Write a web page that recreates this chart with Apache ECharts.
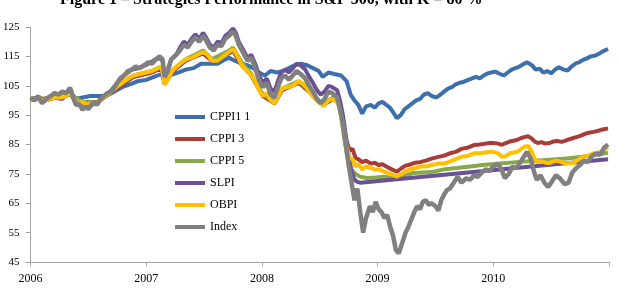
<!DOCTYPE html>
<html>
<head>
<meta charset="utf-8">
<script src="https://cdn.jsdelivr.net/npm/echarts@6/dist/echarts.min.js"></script>
<style>
  html, body { margin: 0; padding: 0; background: #fff; }
</style>
</head>
<body>
<div id="myChart" style="width: 618px; height: 294px"></div>
<script>
// x = months since Jan 2006, y = portfolio value
var legendNames = ["CPPI1 1", "CPPI 3", "CPPI 5", "SLPI", "OBPI", "Index"];
var yearLabels = ["2006", "2007", "2008", "2009", "2010"];

var cppi1 = [[0,100.5],[0.8,100.5],[1.6,100],[2.5,101],[3.3,101],[4.1,102.5],[4.7,100.5],[5.4,101],[6.2,101.5],[7.0,101.5],[7.8,101.5],[8.7,103],[9.5,104.5],[10.3,105.5],[11.1,106.5],[12.0,107],[12.8,108],[13.6,109],[13.9,106.5],[14.4,108.5],[15.3,109.5],[16.1,110.5],[16.9,111],[17.7,112.5],[18.6,112.5],[19.4,112.5],[20.2,114],[20.6,114.5],[21.2,113.5],[21.9,112.5],[22.5,112],[23.1,111],[23.7,109.5],[24.3,108.5],[24.9,110],[25.6,109.5],[26.2,110],[26.8,111],[27.4,112],[28.0,112.5],[28.7,112],[29.3,111],[29.9,110],[30.3,108],[30.9,109.5],[31.5,109],[32.2,108.5],[32.8,106.5],[33.2,102],[33.6,100],[34.0,98.5],[34.4,95.5],[34.8,98],[35.3,98.5],[35.7,97.5],[36.1,99],[36.5,99.5],[36.9,98.5],[37.3,97.5],[37.7,95.5],[38.0,94],[38.4,95],[38.8,97],[39.2,98],[39.6,99],[40.0,100],[40.4,100.5],[40.8,102],[41.2,102.5],[41.6,101.5],[42.1,101],[42.5,102],[42.9,103],[43.3,104],[43.7,104.5],[44.1,105.5],[44.5,106],[44.9,106.3],[45.4,107],[45.8,107.5],[46.2,108],[46.6,107.5],[47.0,108.5],[47.4,109.2],[47.8,109.5],[48.2,109.8],[48.7,109],[49.1,108.5],[49.5,109.5],[49.9,110.5],[50.3,111],[50.7,111.5],[51.1,112.3],[51.5,113],[52.0,112],[52.4,110.5],[52.8,110.8],[53.2,109.5],[53.6,110],[54.0,109.2],[54.4,110.5],[54.8,111.3],[55.3,110.5],[55.7,110.2],[56.1,111.5],[56.5,112.5],[56.9,113],[57.3,113.8],[57.7,114.3],[58.1,115],[58.6,115.3],[59.0,116],[59.4,116.8],[59.9,117.5]];

var cppi3 = [[0,100.3],[2.5,100.8],[4.1,102],[5.4,99.5],[7.0,99.5],[8.9,104],[10.7,108],[12.6,109.5],[13.6,111],[13.9,105.5],[14.8,110],[16.1,113.5],[17.9,116],[18.8,113.5],[20.6,116],[21.0,117],[21.9,112],[22.9,108.5],[24.1,101.5],[25.3,99],[26.1,103.5],[27.8,106],[28.9,103],[29.9,99.5],[30.4,98.5],[31.4,100.5],[31.9,99.5],[32.2,96],[32.5,91],[32.8,86],[33.1,83],[33.4,83.5],[33.7,80.5],[34.0,80],[34.4,79],[34.8,79.5],[35.3,78.5],[35.7,78.8],[36.1,78],[36.5,78.3],[36.9,77.5],[37.3,76.8],[37.7,76.2],[38.0,75.8],[38.5,77],[38.9,77.8],[39.4,78.2],[39.9,78.8],[40.4,79],[41.0,79.5],[41.6,80.2],[42.3,80.8],[42.9,81.2],[43.5,82],[44.1,82.5],[44.7,83.5],[45.4,84],[46.0,84.8],[46.6,85],[47.2,85.3],[47.6,85.5],[48.0,85.5],[48.5,85.3],[48.9,84.9],[49.3,85.5],[49.7,86],[50.1,86.3],[50.5,86.6],[50.9,87.2],[51.3,87.6],[51.6,87.8],[52.0,87],[52.3,86],[52.6,85.5],[53.0,85.8],[53.4,85.3],[53.8,85.5],[54.2,86],[54.6,86.2],[55.1,85.9],[55.5,86.3],[55.9,86.8],[56.3,87.2],[56.7,87.6],[57.1,88],[57.5,88.6],[57.9,89],[58.4,89.3],[58.8,89.6],[59.2,90],[59.6,90.3],[59.9,90.5]];

var cppi5 = [[0,100.3],[2.5,100.8],[4.1,102],[5.4,99.5],[7.0,99.5],[8.9,104.5],[10.7,108.5],[12.6,110],[13.6,111.5],[13.9,106],[14.8,110.5],[16.1,114],[17.9,117],[18.8,114],[20.6,117],[21.0,118],[21.9,113],[22.9,109],[24.1,102],[25.3,99.5],[26.1,104],[27.8,106.5],[28.9,103.5],[29.9,100],[30.4,99],[31.4,101],[31.9,99.5],[32.2,95],[32.5,88],[32.8,82],[33.1,77],[33.4,76],[33.7,75],[34.2,74],[34.9,73.6],[35.8,73.8],[36.6,74],[37.3,73.8],[38.0,73.6],[38.9,74.5],[39.7,75.3],[40.7,75.5],[41.8,75.7],[43.0,76.6],[44.2,77],[45.6,77.5],[46.9,78],[48.7,78.5],[50.4,79],[52.1,79.4],[53.8,79.8],[55.6,80.2],[57.2,80.8],[58.5,81.4],[59.9,82.2]];

var slpi = [[0,100.5],[0.8,101],[1.6,100],[2.5,101],[3.3,100.5],[4.1,103.5],[4.7,98.5],[5.4,98.5],[6.0,97.5],[6.6,99],[7.2,100],[8.0,102],[8.9,105.5],[9.7,108.5],[10.5,110.5],[11.3,111],[12.2,112.5],[13.0,114],[13.4,114.5],[13.7,113.5],[13.9,107.5],[14.2,109.5],[14.6,114],[15.1,115.5],[15.5,118],[15.9,120],[16.3,119],[16.7,121],[17.1,122.5],[17.5,121],[17.9,123],[18.2,121.5],[18.6,119],[19.0,118],[19.4,120],[19.8,119.5],[20.2,122],[20.6,123],[21.0,124.5],[21.3,123],[21.6,120],[22.1,117],[22.5,114.5],[22.9,115.5],[23.3,112.5],[23.7,108.5],[24.1,106],[24.5,107.5],[24.9,104],[25.3,103],[25.6,106],[26.0,109.5],[26.4,110.5],[26.8,109.5],[27.2,111],[27.6,112.5],[28.0,112],[28.5,110.5],[28.9,108],[29.3,106],[29.7,103.5],[30.1,102],[30.5,103],[30.9,105],[31.3,104.5],[31.8,103.5],[32.1,100],[32.4,95],[32.7,88],[33.0,81],[33.3,76],[33.6,73],[33.9,72.3],[34.2,72],[47.0,76],[59.9,80]];

var obpi = [[0,100.5],[0.8,100.5],[1.6,100],[2.5,101],[3.3,101],[4.1,102.5],[4.5,101],[4.9,99],[5.4,99.5],[5.8,98.5],[6.4,99],[7.0,99.5],[7.6,101],[8.2,102.5],[8.9,104.5],[9.5,106],[10.1,107.5],[10.7,108.5],[11.3,109],[12.0,109.5],[12.6,110],[13.2,111],[13.6,111.5],[13.9,105.5],[14.3,107.5],[14.8,110.5],[15.5,112.5],[16.1,114],[16.7,114.5],[17.3,115.5],[17.9,116.5],[18.4,115.5],[18.8,113.5],[19.4,113.5],[20.0,115],[20.6,116.5],[21.0,117.5],[21.4,115.5],[21.9,112],[22.5,110],[22.9,108.5],[23.3,106.5],[23.7,103.5],[24.1,101.5],[24.5,102.5],[24.9,100],[25.3,99],[25.7,101.5],[26.1,104],[26.6,104.5],[27.2,105],[27.8,106.5],[28.4,105.5],[28.9,103],[29.4,101],[29.9,99.5],[30.4,98],[30.9,100],[31.4,100.5],[31.9,99],[32.2,95],[32.5,90],[32.8,84],[33.1,80.5],[33.4,80],[33.7,77.5],[34.0,78.5],[34.4,76.5],[34.8,77.5],[35.3,77],[35.7,76.5],[36.1,76.5],[36.5,76],[36.9,75.5],[37.3,75],[37.7,74.5],[38.0,74],[38.5,75],[38.9,76],[39.4,76.5],[39.9,77],[40.4,77.5],[41.0,77.5],[41.6,78],[42.3,78.5],[42.9,78.5],[43.5,79.2],[44.1,80],[44.7,80.8],[45.4,81.2],[46.0,82],[46.6,82],[47.2,82.3],[47.6,82.5],[48.0,82.5],[48.5,82],[48.9,80.8],[49.3,81],[49.7,82],[50.1,82.3],[50.5,82.5],[50.9,83.5],[51.3,84.3],[51.6,84.5],[52.0,82.5],[52.3,80],[52.6,79],[53.0,79.3],[53.4,78.8],[53.8,78.7],[54.2,79.2],[54.6,79.5],[55.1,79],[55.5,78.5],[55.9,78.8],[56.3,78.7],[56.7,79.5],[57.1,80.5],[57.5,81],[57.9,81.3],[58.4,82],[58.8,82],[59.2,82.8],[59.6,83.5],[59.9,84]];

var index = [[0,101],[0.4,100],[0.8,101.5],[1.2,99],[1.6,100.5],[2.1,101.5],[2.5,102.5],[2.9,102],[3.3,103],[3.7,102.5],[4.1,104.3],[4.4,101.5],[4.7,99],[5.1,98.5],[5.4,96.8],[5.7,98],[6.0,97],[6.3,98.5],[6.6,99.5],[6.9,98.5],[7.2,100.2],[7.6,101.5],[8.0,102.5],[8.5,103.5],[8.9,105.5],[9.3,107.5],[9.7,108.5],[10.1,110],[10.5,110.5],[10.9,111.5],[11.3,111],[11.8,112],[12.2,113],[12.6,112.5],[13.0,114],[13.4,115],[13.7,114],[13.9,108],[14.2,110],[14.6,114],[15.1,115.5],[15.5,117],[15.9,119],[16.3,118],[16.7,120],[17.1,121.5],[17.5,120],[17.9,122],[18.2,120.5],[18.6,118],[19.0,117],[19.4,119],[19.8,118.5],[20.2,121],[20.6,122],[21.0,123.5],[21.3,122],[21.6,119],[22.1,116],[22.5,113.5],[22.9,114.5],[23.3,111],[23.7,107],[24.1,104.5],[24.5,106],[24.9,102],[25.3,101],[25.6,104],[26.0,107.5],[26.4,108.5],[26.8,107],[27.2,108.5],[27.6,110],[28.0,109],[28.5,107.5],[28.9,105],[29.3,103],[29.7,100.5],[30.1,99],[30.5,100.5],[30.9,103],[31.3,102.5],[31.8,101],[32.1,97],[32.4,92],[32.7,85],[33.0,78],[33.3,72],[33.6,66],[33.9,70],[34.2,62],[34.5,55],[34.8,60],[35.2,64],[35.5,62],[35.8,65.5],[36.1,63],[36.4,62],[36.7,60],[37.0,61],[37.3,57],[37.6,54],[37.9,49],[38.2,48],[38.6,52],[38.9,55],[39.2,57],[39.5,59.5],[39.8,62],[40.1,64],[40.4,63],[40.7,65.5],[41.0,66],[41.3,64.5],[41.6,65],[42.0,64],[42.3,62.5],[42.6,66],[42.9,68],[43.2,69.5],[43.5,70],[43.9,72],[44.3,74],[44.7,72],[45.2,73.5],[45.6,73],[46.0,74.5],[46.4,74],[46.8,75.5],[47.2,76.5],[47.6,76],[48.0,77.5],[48.5,78.5],[48.9,76],[49.2,73.5],[49.6,75],[50.0,77.5],[50.4,77],[50.8,79],[51.2,81],[51.5,82.5],[51.9,80],[52.2,76],[52.5,73],[52.9,74.5],[53.3,72],[53.7,70.5],[54.1,72.5],[54.5,74.5],[54.9,73.5],[55.4,71.5],[55.8,72],[56.2,75.5],[56.6,77],[57.0,78],[57.4,79.5],[57.8,79],[58.2,81],[58.7,82],[59.1,81.5],[59.5,84],[59.9,85]];

var seriesData = [cppi1, cppi3, cppi5, slpi, obpi, index];
var colorlist = ["#3d6fad", "#a93b38", "#88a94b", "#6a5096", "#ffc000", "#808080"];
var widthlist = [4, 4, 4, 4, 4, 4.5];

var serieslist = [];
seriesData.forEach(function (element, i) {
  serieslist.push({
    name: legendNames[i],
    type: "line",
    showSymbol: false,
    symbol: "none",
    data: element,
    lineStyle: { width: widthlist[i], color: colorlist[i] },
    itemStyle: { color: colorlist[i] },
  });
});

var myChart = echarts.init(document.getElementById("myChart"));
myChart.setOption({
  animation: false,
  title: {
    text: "Figure 1 \u2013 Strategies Performance in S&P 500, with K = 80 %",
    left: 60,
    top: -8,
    padding: 0,
    textStyle: {
      fontFamily: "Liberation Serif",
      fontSize: 16,
      fontWeight: "bold",
      color: "#000",
      lineHeight: 16,
    },
  },
  legend: {
    orient: "vertical",
    left: 170,
    top: 105,
    itemWidth: 30,
    itemHeight: 4,
    itemGap: 8,
    icon: "rect",
    textStyle: { fontFamily: "Liberation Serif", fontSize: 12, color: "#000", lineHeight: 14 },
    data: legendNames,
  },
  grid: { left: 28, right: 9, top: 27, bottom: 32 },
  xAxis: {
    type: "value",
    min: 0,
    max: 60,
    interval: 12,
    axisLine: { show: true, lineStyle: { color: "#a6a6a6", width: 1 } },
    axisTick: { show: true, length: 4, lineStyle: { color: "#a6a6a6" } },
    splitLine: { show: false },
    axisLabel: {
      margin: 11,
      fontFamily: "Liberation Serif",
      fontSize: 12,
      color: "#000",
      formatter: function (v) {
        var k = Math.round(v / 12);
        return yearLabels[k] || "";
      },
    },
  },
  yAxis: {
    type: "value",
    min: 45,
    max: 125,
    interval: 10,
    axisLine: { show: true, lineStyle: { color: "#a6a6a6", width: 1 } },
    axisTick: { show: true, length: 5, lineStyle: { color: "#a6a6a6" } },
    splitLine: { show: false },
    axisLabel: {
      margin: 11,
      fontFamily: "Liberation Serif",
      fontSize: 11,
      color: "#000",
    },
  },
  series: serieslist,
});
</script>
</body>
</html>
